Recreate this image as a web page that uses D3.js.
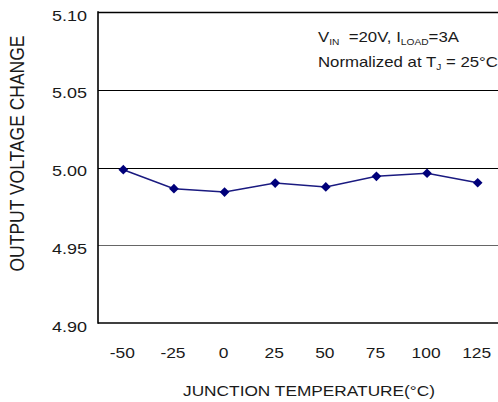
<!DOCTYPE html>
<html>
<head>
<meta charset="utf-8">
<script src="https://cdn.jsdelivr.net/npm/d3@7"></script>
<style>
  body { margin: 0; background: #fff; }
  text { font-family: "Liberation Sans", Arial, sans-serif; fill: #1a1a1a; }
</style>
</head>
<body>
<script>
// data
var temps = ['-50', '-25', '0', '25', '50', '75', '100', '125'];
var vout = [4.9986, 4.9864, 4.9842, 4.9900, 4.9875, 4.9943, 4.9963, 4.9902];
var yTicks = [4.90, 4.95, 5.00, 5.05, 5.10];

var width = 498;
var height = 402;
var sx = 1.2; // the text in the picture is stretched sideways

var svg = d3.select('body').append('svg')
  .attr('width', width)
  .attr('height', height);

var x = d3.scaleBand().domain(temps).range([98, 503]);
var y = d3.scaleLinear().domain([4.90, 5.10]).range([323, 12]);

var cx = function (d) { return x(d) + x.bandwidth() / 2; };

// grid lines
svg.selectAll('line.grid').data(yTicks.slice(1))
  .enter()
  .append('line')
  .attr('class', 'grid')
  .attr('x1', 98)
  .attr('x2', width)
  .attr('y1', function (d) { return Math.round(y(d)) + 0.5; })
  .attr('y2', function (d) { return Math.round(y(d)) + 0.5; })
  .attr('stroke', function (d) { return d === 4.95 ? '#666' : '#000'; })
  .attr('stroke-width', function (d) { return d === 5.10 ? 1.6 : 1; });

// axes frame
svg.append('line')
  .attr('x1', 98).attr('x2', 98)
  .attr('y1', y(5.10) - 0.8).attr('y2', y(4.90) + 0.8)
  .attr('stroke', '#000').attr('stroke-width', 1.6);
svg.append('line')
  .attr('x1', 98).attr('x2', width)
  .attr('y1', y(4.90)).attr('y2', y(4.90))
  .attr('stroke', '#000').attr('stroke-width', 1.6);

// y tick labels
svg.selectAll('text.ytick').data(yTicks)
  .enter()
  .append('text')
  .attr('class', 'ytick')
  .attr('text-anchor', 'end')
  .attr('font-size', 15)
  .attr('transform', function (d) {
    return 'translate(87,' + (y(d) + 8.5) + ') scale(' + sx + ',1)';
  })
  .text(function (d) { return d.toFixed(2); });

// x tick labels
svg.selectAll('text.xtick').data(temps)
  .enter()
  .append('text')
  .attr('class', 'xtick')
  .attr('text-anchor', 'middle')
  .attr('font-size', 14.5)
  .attr('transform', function (d) {
    return 'translate(' + (cx(d) - 1) + ',358) scale(' + sx + ',1)';
  })
  .text(function (d) { return d; });

// axis titles
svg.append('text')
  .attr('text-anchor', 'middle')
  .attr('font-size', 14)
  .attr('textLength', 210)
  .attr('lengthAdjust', 'spacingAndGlyphs')
  .attr('transform', 'translate(309,395.5) scale(' + sx + ',1)')
  .text('JUNCTION TEMPERATURE(°C)');

svg.append('text')
  .attr('text-anchor', 'middle')
  .attr('font-size', 16.5)
  .attr('textLength', 236)
  .attr('lengthAdjust', 'spacingAndGlyphs')
  .attr('transform', 'translate(24,153.5) scale(' + sx + ',1) rotate(-90)')
  .text('OUTPUT VOLTAGE CHANGE');

// note
var note1 = svg.append('text')
  .attr('font-size', 14)
  .attr('transform', 'translate(318,42) scale(' + sx + ',1)');
note1.append('tspan').text('V');
note1.append('tspan').attr('font-size', 8.5).attr('dy', 3).text('IN');
note1.append('tspan').attr('dy', -3).text('\u00a0 =20V, I');
note1.append('tspan').attr('font-size', 8.5).attr('dy', 3).text('LOAD');
note1.append('tspan').attr('dy', -3).text('=3A');

var note2 = svg.append('text')
  .attr('font-size', 14)
  .attr('transform', 'translate(318,66.5) scale(' + sx + ',1)');
note2.append('tspan').text('Normalized at T');
note2.append('tspan').attr('font-size', 8.5).attr('dy', 3).text('J');
note2.append('tspan').attr('dy', -3).text(' = 25°C');

// series line and markers
var line = d3.line()
  .x(function (d, i) { return cx(temps[i]); })
  .y(function (d) { return y(d); });

svg.append('path')
  .datum(vout)
  .attr('d', line)
  .attr('fill', 'none')
  .attr('stroke', '#1a1a80')
  .attr('stroke-width', 1.5);

svg.selectAll('path.pt').data(vout)
  .enter()
  .append('path')
  .attr('class', 'pt')
  .attr('d', d3.symbol().type(d3.symbolDiamond2).size(60))
  .attr('transform', function (d, i) {
    return 'translate(' + cx(temps[i]) + ',' + y(d) + ')';
  })
  .attr('fill', '#00007a');
</script>
</body>
</html>
